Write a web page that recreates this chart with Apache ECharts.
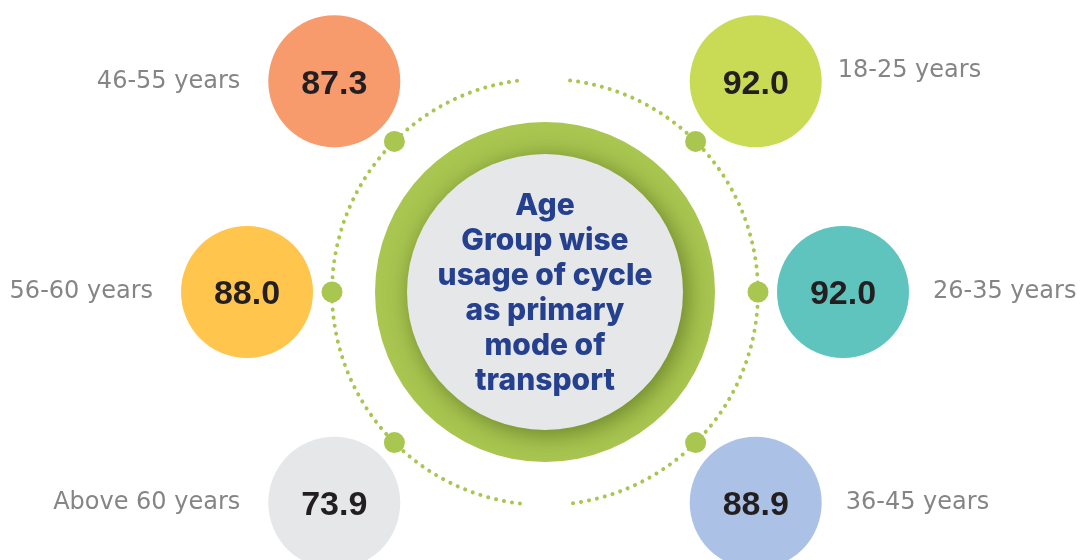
<!DOCTYPE html>
<html>
<head>
<meta charset="utf-8">
<script src="https://cdn.jsdelivr.net/npm/echarts@6/dist/echarts.min.js"></script>
<style>
  html, body { margin: 0; padding: 0; background: #fff; }
  #chart { width: 1080px; height: 560px; }
</style>
</head>
<body>
<div id="chart"></div>
<script>
// age groups, clockwise from the upper right bubble
const ageGroups = ['18-25 years', '26-35 years', '36-45 years', 'Above 60 years', '56-60 years', '46-55 years'];
const usage = [92.0, 92.0, 88.9, 73.9, 88.0, 87.3];
const bubbleColors = ['#C9DB55', '#5FC4BE', '#ABC2E6', '#E6E7E9', '#FFC54D', '#F79B6C'];
const centerTitle = 'Age\nGroup wise\nusage of cycle\nas primary\nmode of\ntransport';

const cx = 545, cy = 292;
const green = '#A9C650';

// 8 slots round the ring, the empty ones sit at top and bottom
const slots = [ageGroups[0], ageGroups[1], ageGroups[2], 'gapBottom',
  ageGroups[3], ageGroups[4], ageGroups[5], 'gapTop'];

const chart = echarts.init(document.getElementById('chart'));

const gap = 0.118; // half gap of dotted ring, radians
const dots = {
  stroke: green,
  lineWidth: 4,
  lineCap: 'round',
  lineDash: [0.1, 8],
  fill: null
};

const option = {
  backgroundColor: '#fff',
  animation: false,
  polar: { center: [cx, cy], radius: 298 },
  angleAxis: {
    type: 'category',
    data: slots,
    startAngle: 45,
    clockwise: true,
    boundaryGap: false,
    show: false
  },
  radiusAxis: { type: 'value', min: 0, max: 1, show: false },
  graphic: [
    // dotted ring, right and left halves
    { type: 'arc', shape: { cx: cx, cy: cy, r: 213, startAngle: -Math.PI / 2 + gap, endAngle: Math.PI / 2 - gap, clockwise: true }, style: dots, silent: true },
    { type: 'arc', shape: { cx: cx, cy: cy, r: 213, startAngle: Math.PI / 2 + gap, endAngle: Math.PI * 1.5 - gap, clockwise: true }, style: dots, silent: true },
    // center disc
    { type: 'circle', shape: { cx: cx, cy: cy, r: 170 }, style: { fill: green }, silent: true },
    {
      type: 'circle', shape: { cx: cx, cy: cy, r: 138 },
      style: { fill: '#E6E7E9', shadowBlur: 24, shadowColor: 'rgba(40,60,0,0.5)', shadowOffsetX: 4, shadowOffsetY: 4 },
      silent: true
    },
    {
      type: 'text', x: cx, y: cy + 1, silent: true,
      style: {
        text: centerTitle,
        fill: '#25408F',
        font: '800 30px Inter, "Noto Sans", sans-serif',
        lineHeight: 35,
        align: 'center',
        verticalAlign: 'middle'
      }
    }
  ],
  series: [
    {
      // knobs on the dotted ring
      type: 'scatter',
      coordinateSystem: 'polar',
      symbolSize: 21,
      itemStyle: { color: green, opacity: 1 },
      silent: true,
      z: 2,
      data: ageGroups.map(g => [213 / 298, g])
    },
    {
      type: 'scatter',
      coordinateSystem: 'polar',
      symbolSize: 132,
      silent: true,
      z: 3,
      data: ageGroups.map((g, i) => ({ value: [1, g], itemStyle: { color: bubbleColors[i], opacity: 1 } })),
      label: {
        show: true,
        position: 'inside',
        offset: [0, 3],
        formatter: p => usage[p.dataIndex].toFixed(1),
        color: '#231F20',
        fontFamily: '"Liberation Sans", Arial, sans-serif',
        fontWeight: 'bold',
        fontSize: 34
      }
    },
    {
      // age group names beside the bubbles
      type: 'scatter',
      coordinateSystem: 'polar',
      symbolSize: 132,
      silent: true,
      z: 4,
      itemStyle: { color: 'rgba(0,0,0,0)' },
      data: ageGroups.map((g, i) => ({
        value: [1, g],
        label: {
          position: i < 3 ? 'right' : 'left',
          distance: i < 3 ? 24 : 28,
          offset: i === 0 ? [-8, -11] : [0, 0]
        }
      })),
      label: {
        show: true,
        formatter: p => ageGroups[p.dataIndex],
        color: '#666769',
        fontFamily: '"DejaVu Sans", sans-serif',
        fontSize: 24
      }
    }
  ]
};

chart.setOption(option);
</script>
</body>
</html>
